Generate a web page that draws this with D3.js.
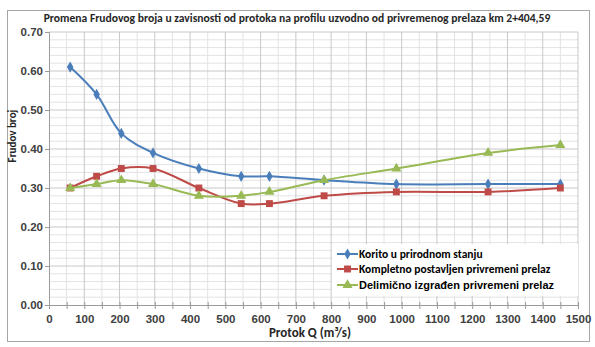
<!DOCTYPE html>
<html>
<head>
<meta charset="utf-8">
<script src="https://cdn.jsdelivr.net/npm/d3@7"></script>
<style>
  body { margin: 0; background: #fff; }
  svg { font-family: Calibri, Carlito, "Open Sans", "Liberation Sans", sans-serif; }
</style>
</head>
<body>
<div id="chart"></div>
<script>
// flow values on x, Froude number per series
const protok = [60, 135, 205, 295, 425, 545, 625, 780, 985, 1245, 1450]
const korito = [0.61, 0.54, 0.44, 0.39, 0.35, 0.33, 0.33, 0.32, 0.31, 0.31, 0.31]
const kompletno = [0.30, 0.33, 0.35, 0.35, 0.30, 0.26, 0.26, 0.28, 0.29, 0.29, 0.30]
const delimicno = [0.30, 0.31, 0.32, 0.31, 0.28, 0.28, 0.29, 0.32, 0.35, 0.39, 0.41]
const seriesNames = ['Korito u prirodnom stanju', 'Kompletno postavljen privremeni prelaz', 'Delimično izgrađen privremeni prelaz']
const xTicks = d3.range(0, 1501, 100)
const yTicks = d3.range(0, 0.701, 0.1)

const drawChart = () => {
    const width = 595
    const height = 347
    const margin = { top: 32, right: 17, bottom: 42, left: 49 }

    const svg = d3.select('#chart')
        .append('svg')
        .attr('width', width)
        .attr('height', height)

    // outer chart frame
    svg.append('rect')
        .attr('x', 7.5).attr('y', 10.5)
        .attr('width', 582).attr('height', 331)
        .attr('fill', 'none')
        .attr('stroke', '#a6a6a6')

    const xScale = d3.scaleLinear()
        .domain([0, 1500])
        .range([margin.left, width - margin.right])

    const yScale = d3.scaleLinear()
        .domain([0, 0.7])
        .range([height - margin.bottom, margin.top])

    const grid = svg.append('g')

    // minor grid
    grid.selectAll('.vminor')
        .data(d3.range(50, 1500, 100))
        .enter().append('line')
        .attr('x1', d => xScale(d)).attr('x2', d => xScale(d))
        .attr('y1', yScale(0)).attr('y2', yScale(0.7))
        .attr('stroke', '#e3e3e3')
    grid.selectAll('.hminor')
        .data(d3.range(0.02, 0.7, 0.02).filter((d, i) => (i + 1) % 5 != 0))
        .enter().append('line')
        .attr('x1', xScale(0)).attr('x2', xScale(1500))
        .attr('y1', d => yScale(d)).attr('y2', d => yScale(d))
        .attr('stroke', '#e3e3e3')

    // major grid
    grid.selectAll('.vmajor')
        .data(xTicks.slice(1))
        .enter().append('line')
        .attr('x1', d => xScale(d)).attr('x2', d => xScale(d))
        .attr('y1', yScale(0)).attr('y2', yScale(0.7))
        .attr('stroke', '#c8c8c8')
    grid.selectAll('.hmajor')
        .data(yTicks.slice(1))
        .enter().append('line')
        .attr('x1', xScale(0)).attr('x2', xScale(1500))
        .attr('y1', d => yScale(d)).attr('y2', d => yScale(d))
        .attr('stroke', '#c8c8c8')

    // axes
    const xAxis = svg.append('g')
        .attr('transform', `translate(0,${yScale(0)})`)
        .call(d3.axisBottom(xScale).tickValues(d3.range(0, 1501, 50)).tickSize(4).tickFormat(d => d % 100 == 0 ? d : ''))
    xAxis.select('.domain').attr('stroke', '#9a9a9a')
    xAxis.selectAll('.tick line').attr('stroke', '#9a9a9a').attr('y1', -3)
    xAxis.selectAll('.tick text')
        .attr('dy', '1em').attr('y', 6)
        .attr('fill', '#404040').attr('font-size', '11.5px').attr('font-weight', 'bold')

    const yAxis = svg.append('g')
        .attr('transform', `translate(${xScale(0)},0)`)
        .call(d3.axisLeft(yScale).tickValues(yTicks).tickSize(4).tickFormat(d3.format('.2f')))
    yAxis.select('.domain').attr('stroke', '#9a9a9a')
    yAxis.selectAll('.tick line').attr('stroke', '#9a9a9a')
    yAxis.selectAll('.tick text')
        .attr('x', -6)
        .attr('fill', '#404040').attr('font-size', '11.5px').attr('font-weight', 'bold')

    // titles
    svg.append('text')
        .attr('x', 297).attr('y', 22)
        .attr('text-anchor', 'middle')
        .attr('font-size', '11.6px').attr('font-weight', 'bold').attr('fill', '#262626')
        .text('Promena Frudovog broja u zavisnosti od protoka na profilu uzvodno od privremenog prelaza  km 2+404,59')

    svg.append('text')
        .attr('transform', 'translate(16,136) rotate(-90)')
        .attr('text-anchor', 'middle')
        .attr('font-size', '11px').attr('font-weight', 'bold').attr('fill', '#262626')
        .text('Frudov broj')

    svg.append('text')
        .attr('x', 310).attr('y', 337)
        .attr('text-anchor', 'middle')
        .attr('font-size', '13px').attr('font-weight', 'bold').attr('fill', '#262626')
        .text('Protok Q (m³/s)')

    const series = [
        { name: seriesNames[0], values: korito, color: '#4a7ebb', marker: d3.symbolDiamond, size: 36 },
        { name: seriesNames[1], values: kompletno, color: '#be4b48', marker: d3.symbolSquare, size: 48 },
        { name: seriesNames[2], values: delimicno, color: '#98b954', marker: d3.symbolTriangle, size: 44 }
    ]

    const line = d3.line()
        .x(d => xScale(d[0]))
        .y(d => yScale(d[1]))
        .curve(d3.curveCatmullRom.alpha(0.5))

    series.forEach(s => {
        const pts = protok.map((x, i) => [x, s.values[i]])
        svg.append('path')
            .datum(pts)
            .attr('d', line)
            .attr('fill', 'none')
            .attr('stroke', s.color)
            .attr('stroke-width', 2)

        svg.selectAll(null)
            .data(pts)
            .enter().append('path')
            .attr('transform', d => `translate(${xScale(d[0])},${yScale(d[1])})`)
            .attr('d', d3.symbol().type(s.marker).size(s.size))
            .attr('fill', s.color)
    })

    // legend
    const legend = svg.append('g')
    legend.append('rect')
        .attr('x', 332).attr('y', 244)
        .attr('width', 246).attr('height', 52)
        .attr('fill', '#fff')

    const legendY = [254, 269, 285]
    const legendSize = ['11.5px', '11.5px', '11px']
    const legendFont = [null, null, '"Liberation Sans", Arial, sans-serif']
    series.forEach((s, i) => {
        legend.append('line')
            .attr('x1', 337).attr('x2', 358)
            .attr('y1', legendY[i]).attr('y2', legendY[i])
            .attr('stroke', s.color).attr('stroke-width', 2)
        legend.append('path')
            .attr('transform', `translate(347.5,${legendY[i]})`)
            .attr('d', d3.symbol().type(s.marker).size(s.size))
            .attr('fill', s.color)
        legend.append('text')
            .attr('x', 359).attr('y', legendY[i])
            .attr('dy', '0.35em')
            .attr('font-family', legendFont[i])
            .attr('font-size', legendSize[i]).attr('font-weight', 'bold').attr('fill', '#000')
            .text(s.name)
    })
}

drawChart()
</script>
</body>
</html>
